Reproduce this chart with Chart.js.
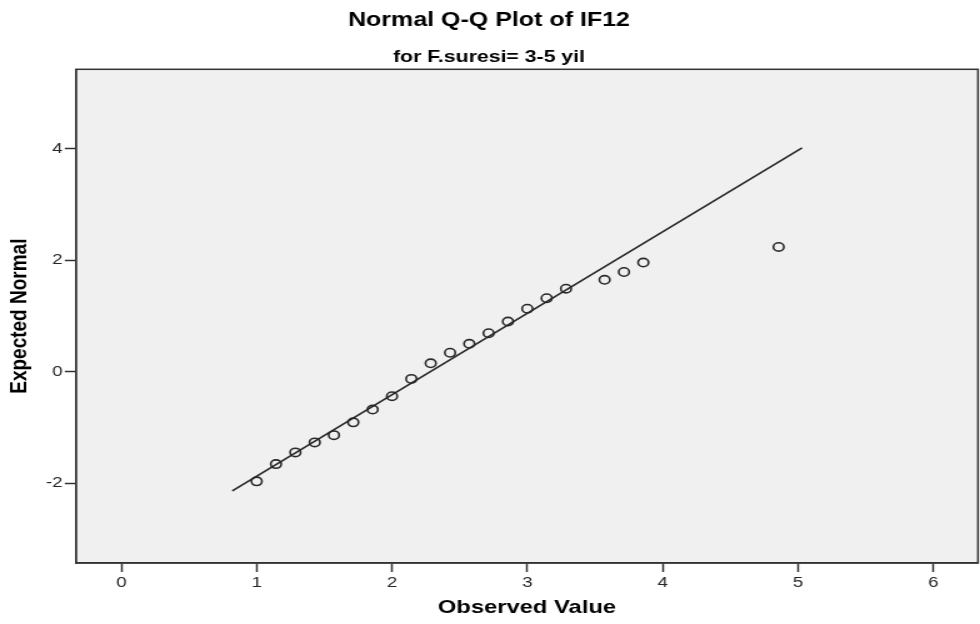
<!DOCTYPE html>
<html>
<head>
<meta charset="utf-8">
<script src="https://cdn.jsdelivr.net/npm/chart.js@4/dist/chart.umd.min.js"></script>
<style>
  html, body { margin: 0; padding: 0; background: #fff; overflow: hidden; }
  /* the source image is stretched sideways by about 1.25, so the canvas is too */
  #wrap { width: 784px; height: 624px; transform: scaleX(1.25); transform-origin: 0 0; }
</style>
</head>
<body>
<div id="wrap"><canvas id="qq"></canvas></div>
<script>
const observed = [1.000, 1.143, 1.286, 1.429, 1.571, 1.714, 1.857, 2.000, 2.143, 2.286, 2.429,
                  2.571, 2.714, 2.857, 3.000, 3.143, 3.286, 3.571, 3.714, 3.857, 4.857];
const expected = [-1.97, -1.66, -1.45, -1.27, -1.14, -0.91, -0.68, -0.44, -0.13, 0.15, 0.34,
                  0.50, 0.69, 0.90, 1.13, 1.32, 1.49, 1.65, 1.79, 1.96, 2.24];

// reference line ends
const lineX = [0.82, 5.03];
const lineY = [-2.14, 4.02];

const xTicks = [0, 1, 2, 3, 4, 5, 6];
const yTicks = [-2, 0, 2, 4];

const ink = "#262626";
const arial = "'Liberation Sans', Arial, sans-serif";

const plotFrame = {
  id: "plotFrame",
  beforeDraw(chart) {
    const { ctx, chartArea: a } = chart;
    ctx.save();
    ctx.fillStyle = "#f0f0f0";
    ctx.fillRect(a.left, a.top, a.right - a.left, a.bottom - a.top);
    ctx.restore();
  },
  afterDraw(chart) {
    const { ctx, chartArea: a } = chart;
    ctx.save();
    ctx.strokeStyle = "#333";
    ctx.lineWidth = 1.5;
    ctx.strokeRect(a.left, a.top, a.right - a.left, a.bottom - a.top);
    ctx.restore();
  }
};

new Chart(document.getElementById("qq"), {
  type: "scatter",
  data: {
    datasets: [
      {
        type: "line",
        data: lineX.map((x, i) => ({ x: x, y: lineY[i] })),
        borderColor: ink,
        borderWidth: 1.6,
        pointRadius: 0,
        fill: false
      },
      {
        data: observed.map((x, i) => ({ x: x, y: expected[i] })),
        pointStyle: "circle",
        pointRadius: 4.2,
        borderWidth: 1.6,
        borderColor: "#2a2a2a",
        backgroundColor: "transparent"
      }
    ]
  },
  options: {
    animation: false,
    responsive: true,
    maintainAspectRatio: false,
    layout: { autoPadding: false, padding: { left: 0, right: 1.6, top: 0, bottom: 0 } },
    plugins: {
      legend: { display: false },
      tooltip: { enabled: false },
      title: {
        display: true,
        text: "Normal Q-Q Plot of IF12",
        color: "#000",
        font: { family: arial, size: 20, weight: "bold" },
        padding: { top: 8, bottom: 15.3 }
      },
      subtitle: {
        display: true,
        text: "for F.suresi= 3-5 yil",
        color: "#000",
        font: { family: arial, size: 17, weight: "bold" },
        padding: { top: 0, bottom: 1.6 }
      }
    },
    scales: {
      x: {
        type: "linear",
        min: -0.335,
        max: 6.33,
        afterBuildTicks: (s) => { s.ticks = xTicks.map(v => ({ value: v })); },
        afterFit: (s) => { s.height = 61; s.paddingLeft = 0; s.paddingRight = 0; },
        ticks: { color: ink, font: { family: arial, size: 15 }, padding: 2 },
        grid: { drawOnChartArea: false, drawTicks: true, tickLength: 9, tickColor: "#333", tickWidth: 1.5 },
        border: { color: "#333", width: 1.5 },
        title: {
          display: true,
          text: "Observed Value",
          color: "#000",
          font: { family: arial, size: 19, weight: "bold" },
          padding: { top: 0, bottom: 4.6 }
        }
      },
      y: {
        type: "linear",
        min: -3.436,
        max: 5.43,
        afterBuildTicks: (s) => { s.ticks = yTicks.map(v => ({ value: v })); },
        afterFit: (s) => { s.width = 60.8; },
        ticks: { color: ink, font: { family: arial, size: 15 }, padding: 1.6 },
        grid: { drawOnChartArea: false, drawTicks: true, tickLength: 9, tickColor: "#333", tickWidth: 1.5 },
        border: { color: "#333", width: 1.5 },
        title: {
          display: true,
          text: "Expected Normal",
          color: "#000",
          font: { family: arial, size: 19, weight: "bold" },
          padding: { top: 4.5, bottom: 0 }
        }
      }
    }
  },
  plugins: [plotFrame]
});
</script>
</body>
</html>
